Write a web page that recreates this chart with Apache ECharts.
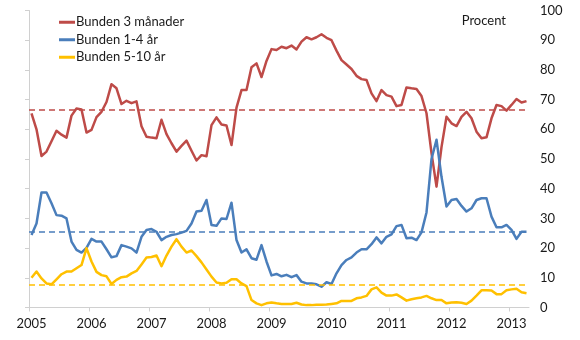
<!DOCTYPE html>
<html>
<head>
<meta charset="utf-8">
<script src="https://cdn.jsdelivr.net/npm/echarts@6/dist/echarts.min.js"></script>
<style>
  html, body { margin: 0; padding: 0; background: #fff; }
  #chart { width: 580px; height: 340px; }
</style>
</head>
<body>
<div id="chart"></div>
<script>
// Monthly shares (%) of new mortgage lending by fixed-rate period, Jan 2005 – Apr 2013
const years = ['2005', '2006', '2007', '2008', '2009', '2010', '2011', '2012', '2013'];

const bunden3m = [
  65.4, 60.0, 51.0, 52.5, 56.0, 59.5, 58.2, 57.2, 64.6, 67.0, 66.7, 58.9,
  59.8, 64.1, 65.9, 69.2, 75.2, 73.8, 68.5, 69.6, 68.8, 69.4, 61.0, 57.5,
  57.2, 57.0, 63.2, 58.4, 55.3, 52.5, 54.4, 56.2, 52.8, 49.5, 51.3, 50.9,
  61.4, 64.0, 61.6, 61.3, 54.7, 67.3, 73.2, 73.2, 80.9, 82.2, 77.6, 83.0,
  87.0, 86.7, 87.8, 87.3, 88.2, 86.9, 89.5, 91.0, 90.3, 91.0, 92.0, 90.8,
  90.0, 86.5, 83.3, 81.8, 80.3, 78.0, 76.9, 76.6, 72.1, 69.5, 73.2, 71.5,
  71.0, 67.8, 68.2, 74.1, 73.8, 73.6, 71.2, 65.4, 52.0, 40.7, 54.0, 64.2,
  62.0, 61.1, 64.2, 65.9, 63.7, 59.2, 57.0, 57.3, 63.7, 68.2, 67.8, 66.3,
  68.2, 70.2, 69.0, 69.5
];

const bunden1to4 = [
  24.4, 28.3, 38.7, 38.7, 35.1, 31.1, 30.9, 30.0, 22.2, 19.4, 18.5, 20.1,
  23.1, 22.2, 22.2, 19.6, 16.9, 17.3, 21.0, 20.5, 19.9, 18.5, 23.8, 26.1,
  26.4, 25.5, 22.7, 23.8, 24.4, 24.7, 25.2, 25.8, 28.3, 32.3, 32.6, 36.2,
  27.8, 27.5, 30.0, 29.8, 35.3, 22.7, 18.5, 19.6, 16.6, 16.1, 21.0, 15.5,
  10.8, 11.3, 10.5, 11.0, 10.2, 10.9, 8.7, 8.1, 8.1, 7.8, 7.0, 8.5,
  7.9, 11.5, 14.3, 16.0, 16.9, 18.5, 19.6, 19.6, 21.3, 23.6, 21.6, 23.8,
  24.6, 27.4, 27.8, 23.3, 23.5, 22.7, 25.3, 32.0, 50.0, 56.5, 44.0, 34.0,
  36.2, 36.5, 34.2, 32.3, 33.4, 36.2, 36.8, 36.8, 30.6, 27.0, 27.0, 27.8,
  26.1, 23.1, 25.5, 25.5
];

const bunden5to10 = [
  10.0, 12.1, 9.8, 8.1, 7.8, 9.5, 11.2, 12.1, 12.1, 13.2, 14.3, 20.0,
  15.5, 12.0, 10.9, 10.5, 7.9, 9.3, 10.2, 10.4, 11.5, 12.3, 14.5, 16.8,
  17.0, 17.5, 13.9, 17.5, 20.5, 23.0, 20.5, 18.5, 19.2, 17.3, 15.2, 12.8,
  10.4, 8.4, 8.1, 8.3, 9.5, 9.5, 8.1, 7.2, 2.5, 1.4, 0.8, 1.4,
  1.7, 1.4, 1.2, 1.2, 1.2, 1.6, 1.0, 0.8, 0.8, 0.9, 0.9, 1.0,
  1.2, 1.4, 2.2, 2.2, 2.2, 3.1, 3.4, 3.9, 6.1, 6.8, 5.0, 4.0,
  4.0, 4.4, 3.4, 2.3, 2.8, 3.1, 3.4, 3.9, 3.1, 2.5, 2.5, 1.4,
  1.7, 1.8, 1.6, 1.2, 2.3, 4.0, 5.8, 5.8, 5.7, 4.5, 4.5, 5.8,
  6.1, 6.3, 5.1, 4.8
];

// Period averages, drawn as dashed reference lines
const avg3m = 66.5;
const avg1to4 = 25.5;
const avg5to10 = 7.6;

const names = ['Bunden 3 månader', 'Bunden 1-4 år', 'Bunden 5-10 år'];
const colors = ['#BE4B48', '#4A7EBB', '#FFC000'];

const FONT = 'Lato';
const MONTHS_SHOWN = 100;

// Points sit mid-month on a month-index axis (0 = start of 2005)
function toPoints(arr) {
  return arr.map((v, i) => [i + 0.5, v]);
}

function makeSeries(name, data, color, avg) {
  return {
    name: name,
    type: 'line',
    data: toPoints(data),
    showSymbol: false,
    symbol: 'none',
    lineStyle: { color: color, width: 2.5, join: 'round' },
    itemStyle: { color: color },
    markLine: {
      silent: true,
      symbol: ['none', 'none'],
      label: { show: false },
      lineStyle: { color: color, type: [6, 4], width: 1.5 },
      data: [{ yAxis: avg }]
    },
    animation: false
  };
}

const chart = echarts.init(document.getElementById('chart'), null, { renderer: 'canvas' });

chart.setOption({
  animation: false,
  backgroundColor: '#ffffff',
  grid: { left: 29, right: 51, top: 10.5, bottom: 32.5, containLabel: false },
  legend: {
    orient: 'vertical',
    left: 54,
    top: 10,
    itemWidth: 16,
    itemHeight: 3,
    itemGap: 3,
    icon: 'rect',
    data: names,
    textStyle: { fontFamily: FONT, fontSize: 13, color: '#1a1a1a', padding: [0, 0, 0, -4], lineHeight: 14.5 }
  },
  title: {
    text: 'Procent',
    right: 69,
    top: 9,
    textStyle: { fontFamily: FONT, fontSize: 13, fontWeight: 'normal', color: '#1a1a1a' }
  },
  xAxis: {
    type: 'value',
    min: 0,
    max: MONTHS_SHOWN,
    interval: 12,
    splitLine: { show: false },
    axisLine: { show: true, lineStyle: { color: '#d0d0d0', width: 1 } },
    axisTick: { show: true, length: 4, lineStyle: { color: '#d0d0d0' } },
    axisLabel: {
      fontFamily: FONT,
      fontSize: 13,
      color: '#1a1a1a',
      margin: 10,
      padding: [0, 0, 0, 5],
      showMaxLabel: false,
      formatter: function (v) { return v % 12 === 0 ? years[v / 12] : ''; }
    }
  },
  yAxis: {
    type: 'value',
    position: 'right',
    min: 0,
    max: 100,
    interval: 10,
    splitLine: { show: false },
    axisLine: { show: true, lineStyle: { color: '#d0d0d0', width: 1 } },
    axisTick: { show: true, inside: true, length: 4, lineStyle: { color: '#d0d0d0' } },
    axisLabel: { fontFamily: FONT, fontSize: 13, color: '#1a1a1a', margin: 11 }
  },
  series: [
    makeSeries(names[0], bunden3m, colors[0], avg3m),
    makeSeries(names[1], bunden1to4, colors[1], avg1to4),
    makeSeries(names[2], bunden5to10, colors[2], avg5to10)
  ]
});
</script>
</body>
</html>
